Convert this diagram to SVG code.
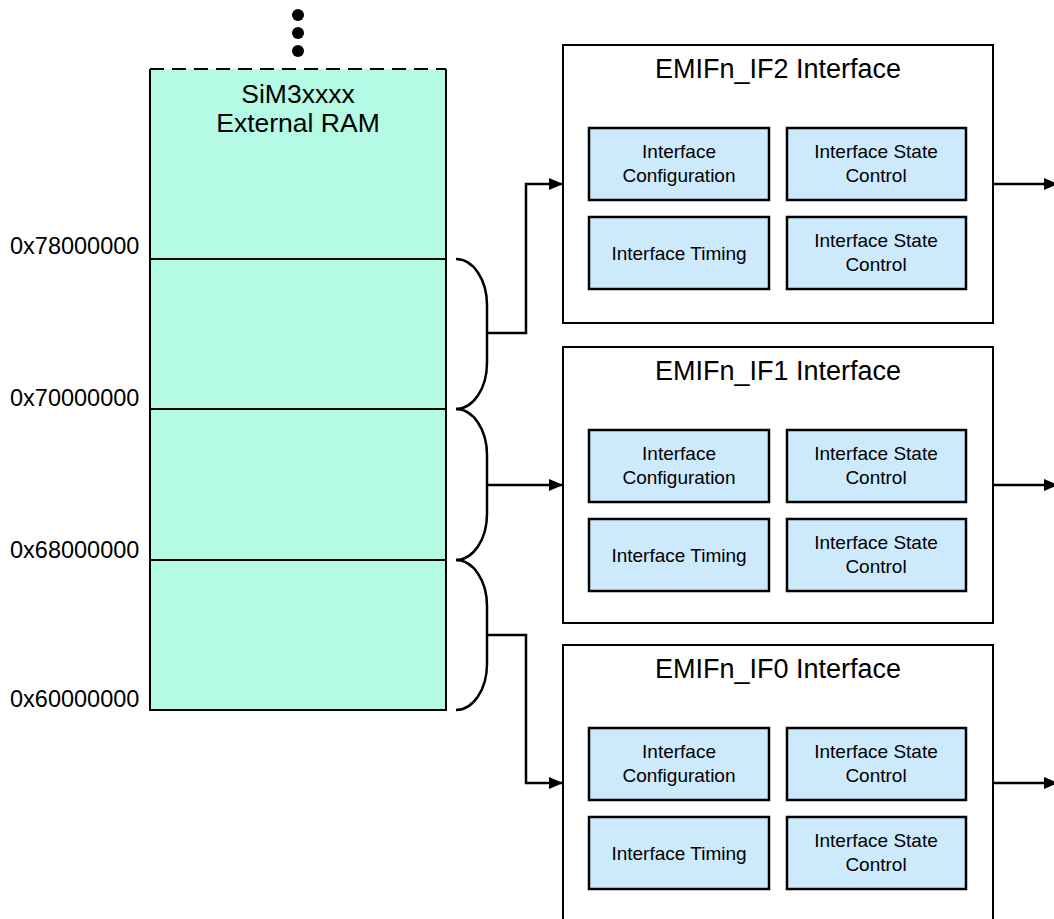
<svg xmlns="http://www.w3.org/2000/svg" width="1054" height="919" viewBox="0 0 1054 919">
<defs>
<marker id="arr" viewBox="0 0 14 12" refX="14" refY="6" markerWidth="14" markerHeight="12" markerUnits="userSpaceOnUse" orient="auto">
<path d="M0,0 L14,6 L0,12 Z" fill="#000"/>
</marker>
</defs>
<style>
text{font-family:"Liberation Sans",Arial,sans-serif;fill:#000}
.addr{font-size:23.5px}
.ram{font-size:26.5px;text-anchor:middle}
.title{font-size:27px;text-anchor:middle}
.in{font-size:19px;text-anchor:middle}
.outer{fill:#fff;stroke:#000;stroke-width:2}
.inner{fill:#cdeafd;stroke:#000;stroke-width:2.5}
.wire{fill:none;stroke:#000;stroke-width:2.5}
.brace{fill:none;stroke:#000;stroke-width:2.5}
</style>
<rect width="1054" height="919" fill="#fff"/>

<g id="dots">
<circle cx="298" cy="15" r="6"/>
<circle cx="298" cy="33" r="6"/>
<circle cx="298" cy="51" r="6"/>
</g>

<g id="ram">
<rect x="150" y="69" width="296" height="641" fill="#b4fae4"/>
<path d="M150,69 V710 H446 V69" fill="none" stroke="#000" stroke-width="2"/>
<line x1="150" y1="69" x2="446" y2="69" stroke="#000" stroke-width="2" stroke-dasharray="14 8"/>
<line x1="150" y1="259" x2="446" y2="259" stroke="#000" stroke-width="2"/>
<line x1="150" y1="409" x2="446" y2="409" stroke="#000" stroke-width="2"/>
<line x1="150" y1="560" x2="446" y2="560" stroke="#000" stroke-width="2"/>
<text class="ram" x="298" y="103">SiM3xxxx</text>
<text class="ram" x="298" y="132">External RAM</text>
</g>

<g id="addresses">
<text class="addr" x="10" y="254">0x78000000</text>
<text class="addr" x="10" y="406">0x70000000</text>
<text class="addr" x="10" y="558">0x68000000</text>
<text class="addr" x="10" y="707">0x60000000</text>
</g>

<g id="braces">
<path class="brace" d="M456,259 A31,46 0 0 1 487,305 V363 A31,46 0 0 1 456,409"/>
<path class="brace" d="M456,409 A31,46 0 0 1 487,455 V514 A31,46 0 0 1 456,560"/>
<path class="brace" d="M456,560 A31,46 0 0 1 487,606 V664 A31,46 0 0 1 456,710"/>
</g>

<g id="if2">
<rect class="outer" x="563" y="45" width="430" height="278"/>
<text class="title" x="778" y="78">EMIFn_IF2 Interface</text>
<rect class="inner" x="589" y="128" width="180" height="72"/>
<rect class="inner" x="787" y="128" width="179" height="72"/>
<rect class="inner" x="589" y="217" width="180" height="72"/>
<rect class="inner" x="787" y="217" width="179" height="72"/>
<text class="in" x="679" y="158">Interface</text>
<text class="in" x="679" y="182">Configuration</text>
<text class="in" x="876" y="158">Interface State</text>
<text class="in" x="876" y="182">Control</text>
<text class="in" x="679" y="260">Interface Timing</text>
<text class="in" x="876" y="247">Interface State</text>
<text class="in" x="876" y="271">Control</text>
</g>

<g id="if1">
<rect class="outer" x="563" y="347" width="430" height="276"/>
<text class="title" x="778" y="380">EMIFn_IF1 Interface</text>
<rect class="inner" x="589" y="430" width="180" height="72"/>
<rect class="inner" x="787" y="430" width="179" height="72"/>
<rect class="inner" x="589" y="519" width="180" height="72"/>
<rect class="inner" x="787" y="519" width="179" height="72"/>
<text class="in" x="679" y="460">Interface</text>
<text class="in" x="679" y="484">Configuration</text>
<text class="in" x="876" y="460">Interface State</text>
<text class="in" x="876" y="484">Control</text>
<text class="in" x="679" y="562">Interface Timing</text>
<text class="in" x="876" y="549">Interface State</text>
<text class="in" x="876" y="573">Control</text>
</g>

<g id="if0">
<rect class="outer" x="563" y="645" width="430" height="300"/>
<text class="title" x="778" y="678">EMIFn_IF0 Interface</text>
<rect class="inner" x="589" y="728" width="180" height="72"/>
<rect class="inner" x="787" y="728" width="179" height="72"/>
<rect class="inner" x="589" y="817" width="180" height="72"/>
<rect class="inner" x="787" y="817" width="179" height="72"/>
<text class="in" x="679" y="758">Interface</text>
<text class="in" x="679" y="782">Configuration</text>
<text class="in" x="876" y="758">Interface State</text>
<text class="in" x="876" y="782">Control</text>
<text class="in" x="679" y="860">Interface Timing</text>
<text class="in" x="876" y="847">Interface State</text>
<text class="in" x="876" y="871">Control</text>
</g>

<g id="connectors">
<path class="wire" d="M487,333 H526 V184 H563" marker-end="url(#arr)"/>
<path class="wire" d="M487,485 H563" marker-end="url(#arr)"/>
<path class="wire" d="M487,635 H526 V783 H563" marker-end="url(#arr)"/>
<path class="wire" d="M993,184 H1058" marker-end="url(#arr)"/>
<path class="wire" d="M993,485 H1058" marker-end="url(#arr)"/>
<path class="wire" d="M993,783 H1058" marker-end="url(#arr)"/>
</g>
</svg>
